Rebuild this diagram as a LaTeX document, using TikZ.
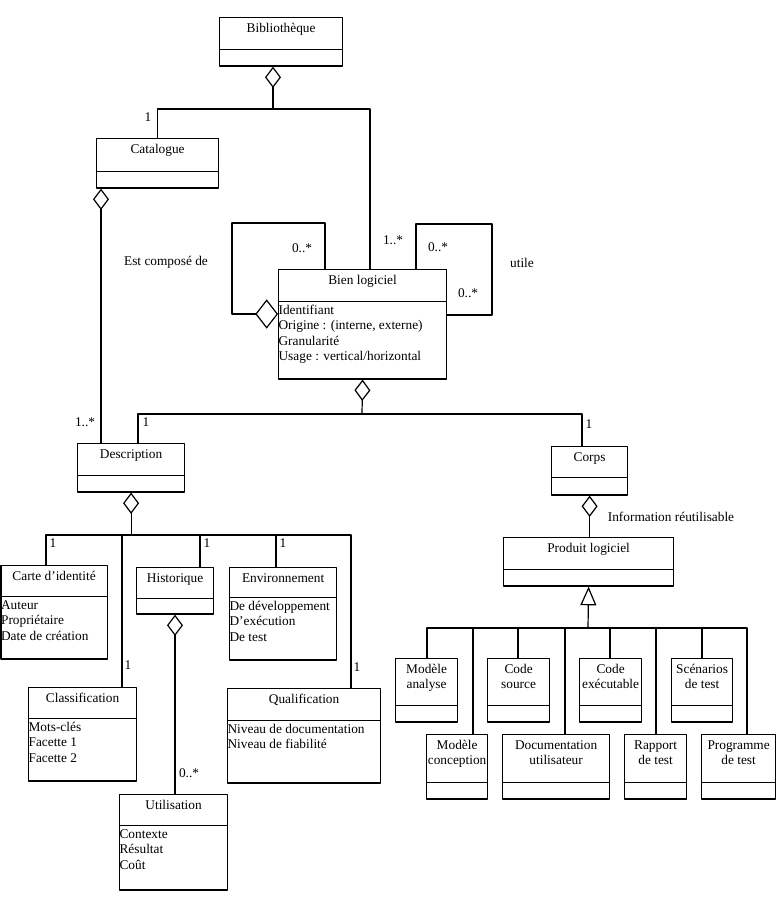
\documentclass[tikz,border=0pt]{standalone}
\usepackage{fontspec}
\setmainfont{Liberation Serif}
\usepackage{tikz}
\usetikzlibrary{positioning,shapes.multipart,arrows.meta}

\newdimen\pxu \pxu=0.75pt
\newcommand{\umlclass}[5]{%
  \parbox[c][#2\pxu][t]{#1\pxu}{\centering\rule{0pt}{14\pxu}#4}%
  \nodepart{two}%
  \parbox[c][#3\pxu][t]{#1\pxu}{\raggedright\rule{0pt}{12\pxu}#5}}

\begin{document}
\begin{tikzpicture}[x=0.75pt,y=-0.75pt,line join=bevel,line width=0.9pt,
  font=\fontsize{10}{11.6}\selectfont,
  cls/.style={draw,rectangle split,rectangle split parts=2,inner sep=0pt,anchor=north west},
  lbl/.style={inner sep=1pt},
  agg/.style={{Diamond[open,length=16pt,width=12pt]}-},
  gen/.style={{Triangle[open,length=14pt,width=12pt]}-}]
\useasboundingbox[fill=white] (0,0) rectangle (776,916);
%%
\node[cls] (node_bib) at (219,17) {\umlclass{123}{31}{15}{Bibliothèque}{}};
  \node[cls] (node_cat) at (96,138) {\umlclass{122}{32}{15}{Catalogue}{}};
  \node[cls] (node_bien) at (278,269) {\umlclass{168}{31}{76}{Bien logiciel}{Identifiant\\Origine : (interne, externe)\\Granularité\\Usage : vertical/horizontal}};
  \node[cls] (node_desc) at (77,443) {\umlclass{107}{31}{15}{Description}{}};
  \node[cls] (node_corps) at (551,446) {\umlclass{76}{30}{16}{Corps}{}};
  \node[cls] (node_prod) at (503,537) {\umlclass{170}{31}{15}{Produit logiciel}{}};
  \node[cls] (node_carte) at (0.5,565) {\umlclass{106}{30}{61}{Carte d'identité}{Auteur\\Propriétaire\\Date de création}};
  \node[cls] (node_histo) at (136,567) {\umlclass{77}{30}{14}{Historique}{}};
  \node[cls] (node_env) at (229,567) {\umlclass{107}{29}{61}{Environnement}{De développement\\D'exécution\\De test}};
  \node[cls] (node_classif) at (28,687) {\umlclass{108}{30}{61}{Classification}{Mots-clés\\Facette 1\\Facette 2}};
  \node[cls] (node_qual) at (227,688) {\umlclass{153}{31}{61}{Qualification}{Niveau de documentation\\Niveau de fiabilité}};
  \node[cls] (node_util) at (119,794) {\umlclass{108}{30}{63}{Utilisation}{Contexte\\Résultat\\Coût}};
  \node[cls] (node_ma) at (395,658) {\umlclass{62}{46}{15}{Modèle\\analyse}{}};
  \node[cls] (node_cs) at (487,658) {\umlclass{62}{46}{15}{Code\\source}{}};
  \node[cls] (node_ce) at (579,658) {\umlclass{62}{46}{15}{Code\\exécutable}{}};
  \node[cls] (node_st) at (671,658) {\umlclass{61}{46}{15}{Scénarios\\de test}{}};
  \node[cls] (node_mc) at (426,734) {\umlclass{61}{47}{15}{Modèle\\conception}{}};
  \node[cls] (node_du) at (502,734) {\umlclass{107}{47}{15}{Documentation\\utilisateur}{}};
  \node[cls] (node_rt) at (624,734) {\umlclass{62}{47}{15}{Rapport\\de test}{}};
  \node[cls] (node_pt) at (701,734) {\umlclass{74}{47}{15}{Programme\\de test}{}};
%
  \node[lbl] (lbl_cat) at (148,117) {1};
  \node[lbl] (lbl_bien) at (393,240) {1..*};
  \node[lbl] (lbl_loopa) at (302,248) {0..*};
  \node[lbl] (lbl_loopb) at (438,247) {0..*};
  \node[lbl] (lbl_loopc) at (468,293) {0..*};
  \node[lbl] (lbl_utile) at (522,263) {utile};
  \node[lbl] (lbl_compose) at (166,262) {Est composé de};
  \node[lbl] (lbl_descm) at (85,422) {1..*};
  \node[lbl] (lbl_desc) at (146,422) {1};
  \node[lbl] (lbl_corps) at (589,424) {1};
  \node[lbl] (lbl_carte) at (53,543) {1};
  \node[lbl] (lbl_histo) at (207,543) {1};
  \node[lbl] (lbl_env) at (283,543) {1};
  \node[lbl] (lbl_classif) at (128,665) {1};
  \node[lbl] (lbl_qual) at (357,667) {1};
  \node[lbl] (lbl_util) at (189,773) {0..*};
  \node[lbl] (lbl_info) at (671,517) {Information réutilisable};
%
  \coordinate (bibjoin) at (273,109);
  \coordinate (bienjoin) at (362,414);
  \coordinate (descjoin) at (node_desc.south |- 0,535);
  \coordinate (prodjoin) at (588,628);
  \draw[agg] (node_bib.south -| bibjoin) -- (bibjoin);
  \draw (node_cat.north) |- (bibjoin) -| (node_bien.north -| 370,0);
  \draw[agg] (node_cat.south -| 101,0) -- (node_desc.north -| 101,0);
  \draw[{Diamond[open,length=17pt,width=22pt]}-] (node_bien.west |- 0,314) -| (232,223) -| (node_bien.north -| 325,0);
  \draw (node_bien.north -| 416,0) |- (492,224) |- (node_bien.east |- 0,315);
  \draw[agg] (node_bien.south) -- (bienjoin);
  \draw (node_desc.north -| 138,0) |- (bienjoin) -| (node_corps.north -| 582,0);
  \draw[agg] (node_desc.south) -- (descjoin);
  \draw (node_carte.north -| 46,0) |- (descjoin) -| (node_qual.north -| 351,0);
  \draw (node_classif.north -| 122,0) |- (descjoin);
  \draw (node_histo.north -| 200,0) |- (descjoin);
  \draw (node_env.north -| 276,0) |- (descjoin);
  \draw[agg] (node_histo.south -| 175,0) -- (node_util.north -| 175,0);
  \draw[agg] (node_corps.south) -- (node_corps.south |- node_prod.north);
  \draw[gen] (node_prod.south) -- (prodjoin);
  \draw (node_ma.north -| 427,0) |- (prodjoin) -| (node_pt.north -| 747,0);
  \draw (node_mc.north -| 473,0) |- (prodjoin);
  \draw (node_cs.north -| 518,0) |- (prodjoin);
  \draw (node_du.north -| 565,0) |- (prodjoin);
  \draw (node_ce.north -| 610,0) |- (prodjoin);
  \draw (node_rt.north -| 656,0) |- (prodjoin);
  \draw (node_st.north -| 702,0) |- (prodjoin);
%
\end{tikzpicture}
\end{document}
